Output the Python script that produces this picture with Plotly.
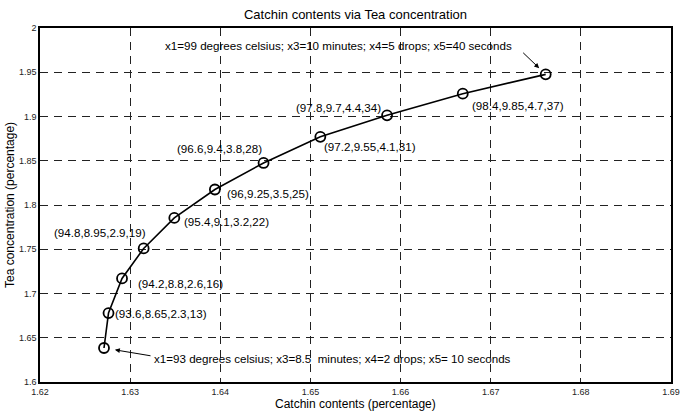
import plotly.graph_objects as go

# Data
catchin = [1.6271, 1.6276, 1.6291, 1.6315, 1.6349, 1.6394, 1.6448, 1.6511, 1.6585, 1.6669, 1.6761]
tea = [1.6384, 1.6779, 1.7170, 1.7509, 1.7854, 1.8175, 1.8475, 1.8770, 1.9013, 1.9258, 1.9476]
labels = ["", "(93.6,8.65,2.3,13)", "(94.2,8.8,2.6,16)", "(94.8,8.95,2.9,19)",
          "(95.4,9.1,3.2,22)", "(96,9.25,3.5,25)", "(96.6,9.4,3.8,28)",
          "(97.2,9.55,4.1,31)", "(97.8,9.7,4.4,34)", "(98.4,9.85,4.7,37)", ""]
x_ticks = [1.62, 1.63, 1.64, 1.65, 1.66, 1.67, 1.68, 1.69]
y_ticks = [1.6, 1.65, 1.7, 1.75, 1.8, 1.85, 1.9, 1.95, 2.0]
y_tick_text = ["1.6", "1.65", "1.7", "1.75", "1.8", "1.85", "1.9", "1.95", "2"]
top_note = "x1=99 degrees celsius; x3=10 minutes; x4=5 drops; x5=40 seconds"
bottom_note = "x1=93 degrees celsius; x3=8.5  minutes; x4=2 drops; x5= 10 seconds"
x_title = "Catchin contents (percentage)"
y_title = "Tea concentration (percentage)"

# label placement (pixel offsets: anchor, dx, dy downward)
label_place = [None, ("left", 4, 0), ("left", 14, 5), ("right", 4, -16),
               ("left", 8, 4), ("left", 10, 4), ("right", 0, -14),
               ("left", 2, 10), ("right", -4, -8), ("left", 7, 12), None]

FONT = "Arial, Liberation Sans, sans-serif"
GRID_DASH = "8px,6px"

fig = go.Figure()
fig.add_trace(go.Scatter(
    x=catchin, y=tea, mode="lines+markers",
    line=dict(color="black", width=1.6),
    marker=dict(symbol="circle-open", size=10, color="black", line=dict(width=1.8)),
    showlegend=False, hoverinfo="skip"))

ann = []
for xv, yv, t, p in zip(catchin, tea, labels, label_place):
    if not t:
        continue
    anchor, dx, dy = p
    ann.append(dict(x=xv, y=yv, xref="x", yref="y", text=t, showarrow=False,
                    xanchor=anchor, yanchor="middle", xshift=dx, yshift=-dy,
                    font=dict(family=FONT, size=11.6, color="black")))

# arrows
ann.append(dict(x=catchin[-1], y=tea[-1], xref="x", yref="y", text="", showarrow=True,
                ax=-24, ay=-23, arrowhead=2, arrowsize=1, arrowwidth=1, arrowcolor="black",
                standoff=9))
ann.append(dict(x=catchin[0], y=tea[0], xref="x", yref="y", text="", showarrow=True,
                ax=48, ay=8, arrowhead=2, arrowsize=1, arrowwidth=1, arrowcolor="black",
                standoff=11))
ann.append(dict(x=1.6336, y=1.9804, xref="x", yref="y", text=top_note, showarrow=False,
                xanchor="left", yanchor="middle",
                font=dict(family=FONT, size=11.6, color="black")))
ann.append(dict(x=1.6324, y=1.6271, xref="x", yref="y", text=bottom_note, showarrow=False,
                xanchor="left", yanchor="middle",
                font=dict(family=FONT, size=11.6, color="black")))
# axis titles
ann.append(dict(x=0.5, y=0, xref="paper", yref="paper", text=x_title, showarrow=False,
                xanchor="center", yanchor="middle", yshift=-22,
                font=dict(family=FONT, size=12, color="black")))
ann.append(dict(x=0, y=0.5, xref="paper", yref="paper", text=y_title, showarrow=False,
                xanchor="center", yanchor="middle", xshift=-30, textangle=-90,
                font=dict(family=FONT, size=12, color="black")))

axis_common = dict(showline=True, linecolor="black", linewidth=1.5, mirror=True,
                   showgrid=True, gridcolor="#222222", gridwidth=1, griddash=GRID_DASH,
                   ticks="", zeroline=False, automargin=False,
                   tickfont=dict(family=FONT, size=9, color="#222222"))

fig.update_layout(
    width=680, height=412,
    margin=dict(l=40, r=9, t=28, b=30),
    paper_bgcolor="white", plot_bgcolor="white",
    title=dict(text="Catchin contents via Tea concentration", x=0.5, xanchor="center",
               y=1 - 14 / 412, yanchor="middle", xref="paper",
               font=dict(family=FONT, size=13, color="black")),
    xaxis=dict(range=[1.62, 1.69], tickvals=x_ticks, ticktext=[f"{v:g}" for v in x_ticks],
               **axis_common),
    yaxis=dict(range=[1.6, 2.0], tickvals=y_ticks, ticktext=y_tick_text,
               **axis_common),
    annotations=ann,
)

fig.write_html("out.html")
